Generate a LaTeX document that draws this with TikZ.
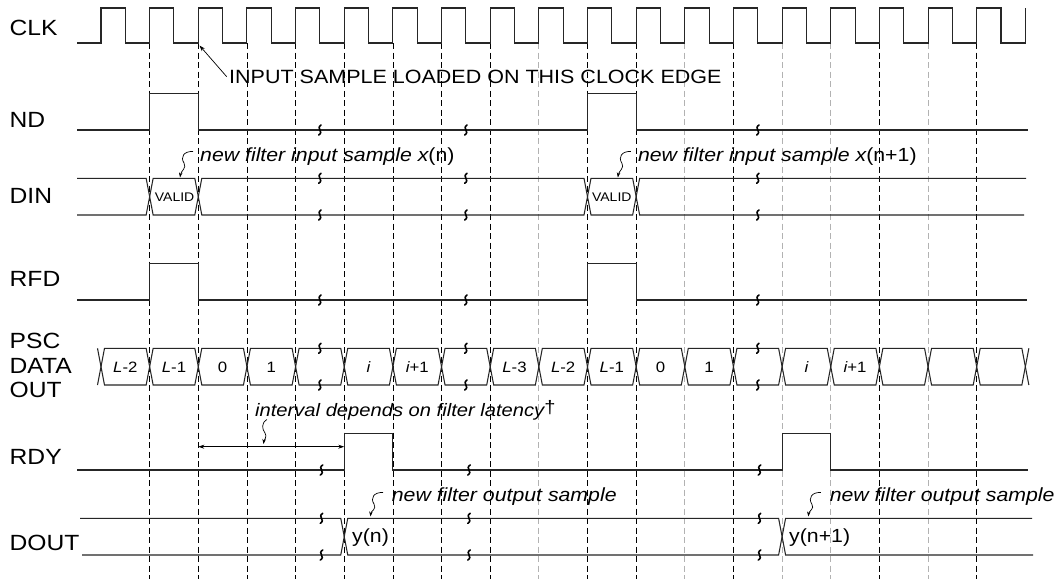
\documentclass[tikz,border=0pt]{standalone}
\usepackage{fontspec}
\setmainfont{Liberation Sans}[FakeStretch=1.12]
\usetikzlibrary{arrows.meta}
\tikzset{
  brkmark/.pic={\draw[line width=1.6pt,black,line cap=round] (1.2,-5) .. controls (-4.5,-1.5) and (4.5,1.5) .. (-1.2,5);},
  sig/.style={line width=1.05pt,black!85,line join=miter},
  bdash/.style={line width=0.8pt,black,dash pattern=on 6pt off 3.5pt},
  gdash/.style={line width=0.8pt,black!30,dash pattern=on 6pt off 3.5pt},
  lbl/.style={anchor=base west,inner sep=0pt,font=\fontsize{22}{26}\selectfont},
  note/.style={anchor=base west,inner sep=0pt,font=\fontsize{19}{22}\selectfont\itshape},
  plain/.style={anchor=base west,inner sep=0pt,font=\fontsize{19}{22}\selectfont},
  cell/.style={anchor=base,inner sep=0pt,font=\fontsize{15}{18}\selectfont},
  squig/.style={line width=0.7pt,black,-{Stealth[length=5pt,width=3.5pt]}},
  dim/.style={line width=0.7pt,black,{Stealth[length=6pt,width=4pt]}-{Stealth[length=6pt,width=4pt]}}
}
\begin{document}
\begin{tikzpicture}[x=1pt,y=-1pt]
\fill[white] (0,0) rectangle (1058,579);
\useasboundingbox (0,0) rectangle (1058,579);

% dashed guide lines
\foreach \k in {1,2,3,4,5,6,7,8,10,11,13,16,18}
  \draw[bdash] ({101+48.65*\k},43) -- ({101+48.65*\k},579);
\foreach \k in {9,12,14,15,17}
  \draw[gdash] ({101+48.65*\k},43) -- ({101+48.65*\k},579);

% CLK
\draw[sig] (77,43) \foreach \k in {0,...,18}{ -- ({101+48.65*\k},43) -- ({101+48.65*\k},8) -- ({125.3+48.65*\k},8) -- ({125.3+48.65*\k},43)} -- (1025.35,43) -- (1025.35,8);

% ND
\draw[sig] (77,130) -- (149.65,130) -- (149.65,93.3) -- (198.3,93.3) -- (198.3,130) -- (587.5,130) -- (587.5,93.3) -- (636.15,93.3) -- (636.15,130) -- (1028,130);

% DIN
\draw[sig] (77,178.3) -- (146.15,178.3) -- (153.15,215) -- (194.8,215) -- (201.8,178.3) -- (584,178.3) -- (591,215) -- (632.65,215) -- (639.65,178.3) -- (1026,178.3);
\draw[sig] (77,215) -- (146.15,215) -- (153.15,178.3) -- (194.8,178.3) -- (201.8,215) -- (584,215) -- (591,178.3) -- (632.65,178.3) -- (639.65,215) -- (1024,215);

% RFD
\draw[sig] (77,300) -- (149.65,300) -- (149.65,263.3) -- (198.3,263.3) -- (198.3,300) -- (587.5,300) -- (587.5,263.3) -- (636.15,263.3) -- (636.15,300) -- (1027,300);

% PSC DATA OUT bus
\foreach \k in {0,...,18}
  \draw[sig] ({101+48.65*\k},366.7) -- ({104.5+48.65*\k},348.3) -- ({146.15+48.65*\k},348.3) -- ({149.65+48.65*\k},366.7) -- ({146.15+48.65*\k},385) -- ({104.5+48.65*\k},385) -- cycle;
\draw[sig] (97.5,348.3) -- (101,366.7) -- (97.5,385);
\draw[sig] (1028.85,348.3) -- (1025.35,366.7) -- (1028.85,385);

% RDY
\draw[sig] (77,470) -- (344.25,470) -- (344.25,433.3) -- (392.9,433.3) -- (392.9,470) -- (782.1,470) -- (782.1,433.3) -- (830.75,433.3) -- (830.75,470) -- (1028,470);

% DOUT
\draw[sig] (80,518.3) -- (340.75,518.3) -- (347.75,555) -- (778.6,555) -- (785.6,518.3) -- (1032,518.3);
\draw[sig] (82,555) -- (340.75,555) -- (347.75,518.3) -- (778.6,518.3) -- (785.6,555) -- (1033,555);

% break marks
\foreach \x in {319.9,465.9,757.8}{
  \pic at (\x,130) {brkmark};
  \pic at (\x,178.3) {brkmark};
  \pic at (\x,215) {brkmark};
  \pic at (\x,300) {brkmark};
  \pic at (\x,348.3) {brkmark};
  \pic at (\x,385) {brkmark};
}
\foreach \x in {321.5,469,759.5}{
  \pic at (\x,470) {brkmark};
  \pic at (\x,518.3) {brkmark};
  \pic at (\x,555) {brkmark};
}

% signal labels
\node[lbl] (clk) at (9.5,35) {CLK};
\node[lbl] (nd) at (9.5,127.5) {ND};
\node[lbl] (din) at (9.5,203.5) {DIN};
\node[lbl] (rfd) at (9.5,286.7) {RFD};
\node[lbl] (psc) at (9.5,348) {PSC};
\node[lbl] (data) at (9.5,373) {DATA};
\node[lbl] (out) at (9.5,397.5) {OUT};
\node[lbl] (rdy) at (9.5,464) {RDY};
\node[lbl] (dout) at (9.5,550) {DOUT};

% VALID cells
\node[inner sep=0pt,font=\fontsize{12.5}{14}\selectfont] (v1) at (174.6,196.7) {VALID};
\node[inner sep=0pt,font=\fontsize{12.5}{14}\selectfont] (v2) at (611.8,196.7) {VALID};

% PSC cell labels
\node[cell] (c0) at (125.33,372.3) {{\itshape L}-2};
\node[cell] (c1) at (173.98,372.3) {{\itshape L}-1};
\node[cell] (c2) at (222.63,372.3) {0};
\node[cell] (c3) at (271.28,372.3) {1};
\node[cell] (c5) at (368.58,372.3) {{\itshape i}};
\node[cell] (c6) at (417.23,372.3) {{\itshape i}+1};
\node[cell] (c8) at (514.53,372.3) {{\itshape L}-3};
\node[cell] (c9) at (563.18,372.3) {{\itshape L}-2};
\node[cell] (c10) at (611.83,372.3) {{\itshape L}-1};
\node[cell] (c11) at (660.48,372.3) {0};
\node[cell] (c12) at (709.13,372.3) {1};
\node[cell] (c14) at (806.43,372.3) {{\itshape i}};
\node[cell] (c15) at (855.08,372.3) {{\itshape i}+1};

% clock edge annotation
\node[anchor=base west,inner sep=0pt,font=\fontsize{19.2}{22}\selectfont] (inp) at (229,83.3) {INPUT SAMPLE LOADED ON THIS CLOCK EDGE};
\coordinate (inpA) at (226.7,76.7);
\coordinate (edgeB) at (199.5,45.5);
\draw[line width=0.7pt,black,-{Stealth[length=6pt,width=4pt]}] (inpA) -- (edgeB);

% input sample notes
\node[note] (xn) at (200,161.7) {new filter input sample x\upshape(n)};
\node[note] (xn1) at (637.85,161.7) {new filter input sample x\upshape(n+1)};
\coordinate (s1a) at (193,151.5);
\coordinate (s1b) at (180,177.5);
\draw[squig] (s1a) .. controls (184,151) and (180,157) .. (184,163) .. controls (187,168) and (181,171) .. (s1b);
\coordinate (s2a) at (630.85,151.5);
\coordinate (s2b) at (617.85,177.5);
\draw[squig] (s2a) .. controls (621.85,151) and (617.85,157) .. (621.85,163) .. controls (624.85,168) and (618.85,171) .. (s2b);

% latency interval
\node[anchor=base west,inner sep=0pt,font=\fontsize{18}{22}\selectfont\itshape] (intv) at (255,416.7) {interval depends on filter latency\raisebox{3pt}{\upshape\dag}};
\coordinate (ia) at (198.3,446.7);
\coordinate (ib) at (344.25,446.7);
\draw[dim] (ia) -- (ib);
\coordinate (s3a) at (267,419.5);
\coordinate (s3b) at (263.5,444);
\draw[squig] (s3a) .. controls (261,423) and (262,429) .. (265,433) .. controls (267.5,437) and (264,440) .. (s3b);

% output sample notes
\node[note] (yo) at (391.7,501.7) {new filter output sample};
\node[note] (yo1) at (829.55,501.7) {new filter output sample};
\coordinate (s4a) at (383,492.5);
\coordinate (s4b) at (370.5,516.5);
\draw[squig] (s4a) .. controls (374,492) and (370,498) .. (374,504) .. controls (377,509) and (371,511) .. (s4b);
\coordinate (s5a) at (820.85,492.5);
\coordinate (s5b) at (808.35,516.5);
\draw[squig] (s5a) .. controls (811.85,492) and (807.85,498) .. (811.85,504) .. controls (814.85,509) and (808.85,511) .. (s5b);

% DOUT values
\node[plain] (yn) at (352,542) {y(n)};
\node[plain] (yn1) at (789,542) {y(n+1)};
\end{tikzpicture}
\end{document}
